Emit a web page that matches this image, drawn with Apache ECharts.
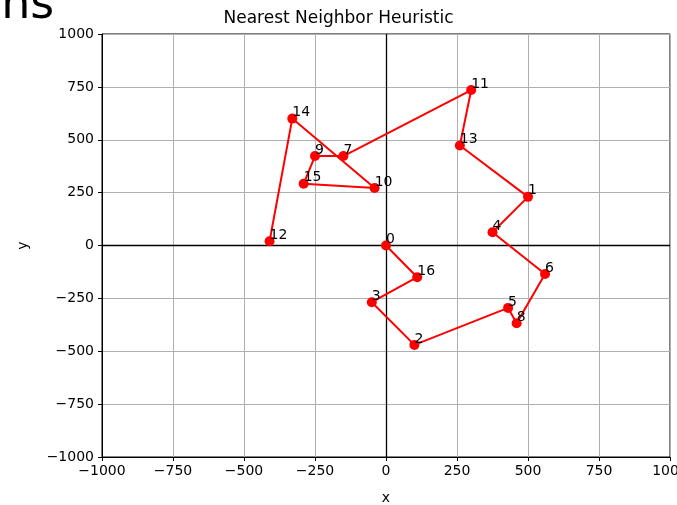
<!DOCTYPE html>
<html>
<head>
<meta charset="utf-8">
<script src="https://cdn.jsdelivr.net/npm/echarts@6/dist/echarts.min.js"></script>
<style>
  html, body { margin: 0; padding: 0; background: #fff; }
  #myChart { width: 677px; height: 505px; }
</style>
</head>
<body>
<div id="myChart"></div>
<script>
// city coordinates, index = city id
const cityX = [0, 500, 100, -50, 375, 430, 560, -150, 460, -250, -40, 300, -410, 260, -330, -290, 110];
const cityY = [0, 230, -470, -268, 63, -295, -135, 423, -368, 423, 272, 735, 20, 473, 600, 292, -150];
// order visited by the nearest neighbor tour
const route = [0, 16, 3, 2, 5, 8, 6, 4, 1, 13, 11, 7, 9, 15, 10, 14, 12];
const axisTicks = [-1000, -750, -500, -250, 0, 250, 500, 750, 1000];

const font = 'DejaVu Sans';
const minus = (v) => String(v).replace('-', '\u2212');

const myChart = echarts.init(document.getElementById('myChart'));

const tourData = route.map((i) => [cityX[i], cityY[i], i]);

function makeAxis(isX) {
  return {
    type: 'value',
    min: axisTicks[0],
    max: axisTicks[axisTicks.length - 1],
    interval: 250,
    name: isX ? 'x' : 'y',
    nameLocation: 'middle',
    nameGap: isX ? 34 : 72,
    nameTextStyle: { fontFamily: font, fontSize: 14, color: '#000' },
    axisLine: { show: true, onZero: false, lineStyle: { color: '#000', width: 1 } },
    axisTick: { show: true, length: 4, lineStyle: { color: '#000' } },
    axisLabel: {
      fontFamily: font,
      fontSize: 14,
      color: '#000',
      margin: isX ? 7 : 8,
      showMinLabel: true,
      showMaxLabel: true,
      formatter: minus,
    },
    splitLine: { show: true, lineStyle: { color: '#b0b0b0', width: 1 } },
  };
}

myChart.setOption({
  animation: false,
  backgroundColor: '#fff',
  title: {
    text: 'Nearest Neighbor Heuristic',
    left: 'center',
    top: 5,
    textStyle: { fontFamily: font, fontSize: 17, fontWeight: 'normal', color: '#000' },
  },
  graphic: [
    {
      type: 'text',
      left: -27,
      top: -17,
      style: { text: 'ons', font: '46px "DejaVu Sans"', fill: '#000' },
    },
  ],
  grid: {
    left: 102,
    right: 7,
    top: 34,
    bottom: 48,
    outerBoundsMode: 'none',
    containLabel: false,
    show: true,
    borderColor: '#000',
    borderWidth: 1,
  },
  xAxis: makeAxis(true),
  yAxis: makeAxis(false),
  series: [
    {
      type: 'line',
      data: tourData,
      symbol: 'circle',
      symbolSize: 10,
      showAllSymbol: true,
      lineStyle: { color: '#ff0000', width: 2 },
      itemStyle: { color: '#ff0000' },
      label: {
        show: true,
        position: [5, 6],
        align: 'left',
        verticalAlign: 'bottom',
        fontFamily: font,
        fontSize: 14,
        lineHeight: 14,
        color: '#000',
        formatter: (p) => String(p.value[2]),
      },
      markLine: {
        silent: true,
        symbol: 'none',
        label: { show: false },
        lineStyle: { color: '#000', width: 1.3, type: 'solid' },
        data: [{ xAxis: 0 }, { yAxis: 0 }],
        z: 1,
      },
      z: 3,
    },
  ],
});
</script>
</body>
</html>
